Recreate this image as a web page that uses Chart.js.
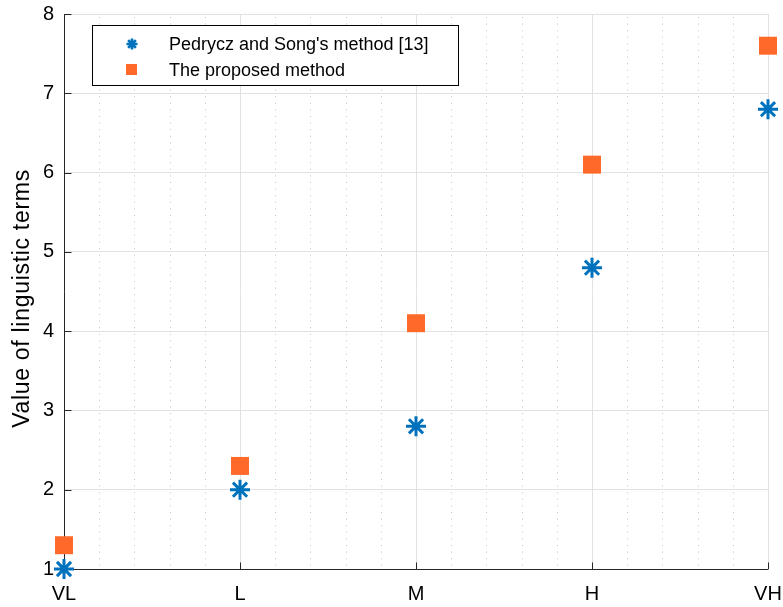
<!DOCTYPE html>
<html>
<head>
<meta charset="utf-8">
<script src="https://cdn.jsdelivr.net/npm/chart.js@4/dist/chart.umd.min.js"></script>
<style>
  html, body { margin: 0; padding: 0; background: #fff; }
  #wrap { width: 783px; height: 607px; position: relative; }
</style>
</head>
<body>
<div id="wrap"><canvas id="c" width="783" height="607"></canvas></div>
<script>
// ---- data ----
const categories = ['VL', 'L', 'M', 'H', 'VH'];
const pedryczSong = [1.0, 2.0, 2.8, 4.8, 6.8];
const proposed = [1.3, 2.3, 4.1, 6.1, 7.6];
const seriesNames = ["Pedrycz and Song's method [13]", 'The proposed method'];
const yTicks = [1, 2, 3, 4, 5, 6, 7, 8];
const yTitle = 'Value of linguistic terms';

const BLUE = '#0072BD';
const ORANGE = '#FF6929';
const AXIS = '#262626';
const FONT = '"Liberation Sans", Arial, Helvetica, sans-serif';

function toPoints(arr) { return arr.map((v, i) => ({ x: i, y: v })); }

const decorPlugin = {
  id: 'decor',
  beforeDatasetsDraw(chart) {
    const ctx = chart.ctx;
    const xs = chart.scales.x, ys = chart.scales.y;
    const a = chart.chartArea;
    ctx.save();
    // minor dotted vertical grid lines (every 0.2 category)
    ctx.strokeStyle = '#c4c4c4';
    ctx.lineWidth = 1;
    ctx.setLineDash([1, 5.6]);
    for (let i = 0; i < categories.length - 1; i++) {
      for (let k = 1; k < 5; k++) {
        const px = Math.round(xs.getPixelForValue(i + k / 5)) + 0.5;
        ctx.beginPath();
        ctx.moveTo(px, a.top + 3);
        ctx.lineTo(px, a.bottom);
        ctx.stroke();
      }
    }
    ctx.setLineDash([]);
    // axes lines
    ctx.strokeStyle = AXIS;
    ctx.lineWidth = 1;
    const left = Math.round(a.left) + 0.5;
    const bottom = Math.round(a.bottom) + 0.5;
    ctx.beginPath();
    ctx.moveTo(left, a.top);
    ctx.lineTo(left, bottom);
    ctx.lineTo(a.right, bottom);
    ctx.stroke();
    // inner ticks
    ctx.beginPath();
    yTicks.forEach(v => {
      const py = Math.round(ys.getPixelForValue(v)) + 0.5;
      ctx.moveTo(left, py);
      ctx.lineTo(left + 7, py);
    });
    categories.forEach((c, i) => {
      const px = Math.round(xs.getPixelForValue(i)) + 0.5;
      ctx.moveTo(px, bottom);
      ctx.lineTo(px, bottom - 7);
    });
    ctx.stroke();
    // y axis title
    ctx.fillStyle = '#000';
    ctx.font = '23px ' + FONT;
    try { ctx.letterSpacing = '0.7px'; } catch (e) {}
    ctx.textAlign = 'center';
    ctx.textBaseline = 'alphabetic';
    ctx.translate(29, (a.top + a.bottom) / 2 + 7);
    ctx.rotate(-Math.PI / 2);
    ctx.fillText(yTitle, 0, 0);
    ctx.restore();
  },
  afterDraw(chart) {
    const ctx = chart.ctx;
    const a = chart.chartArea;
    ctx.save();
    // legend box
    const bx = a.left + 28, by = a.top + 11, bw = 366, bh = 60;
    ctx.fillStyle = '#fff';
    ctx.fillRect(bx, by, bw, bh);
    ctx.strokeStyle = '#000';
    ctx.lineWidth = 1;
    ctx.strokeRect(bx + 0.5, by + 0.5, bw, bh);
    // star marker
    const sx = bx + 40, sy = by + 19;
    ctx.strokeStyle = BLUE;
    ctx.lineWidth = 2.6;
    const r = 5.5;
    ctx.beginPath();
    for (let k = 0; k < 4; k++) {
      const ang = k * Math.PI / 4;
      ctx.moveTo(sx - r * Math.cos(ang), sy - r * Math.sin(ang));
      ctx.lineTo(sx + r * Math.cos(ang), sy + r * Math.sin(ang));
    }
    ctx.stroke();
    // square marker
    ctx.fillStyle = ORANGE;
    ctx.fillRect(bx + 34, by + 39, 11, 11);
    // texts
    ctx.fillStyle = '#000';
    ctx.font = '18px ' + FONT;
    ctx.textBaseline = 'middle';
    ctx.textAlign = 'left';
    ctx.fillText(seriesNames[0], bx + 77, sy + 1);
    ctx.fillText(seriesNames[1], bx + 77, by + 46);
    ctx.restore();
  }
};

new Chart(document.getElementById('c'), {
  type: 'scatter',
  data: {
    datasets: [
      {
        label: seriesNames[0],
        data: toPoints(pedryczSong),
        pointStyle: 'star',
        pointRadius: 10,
        pointHoverRadius: 10,
        borderColor: BLUE,
        backgroundColor: BLUE,
        pointBorderWidth: 3,
        borderWidth: 3,
        clip: false
      },
      {
        label: seriesNames[1],
        data: toPoints(proposed),
        pointStyle: 'rect',
        pointRadius: 12.7,
        pointHoverRadius: 12.7,
        borderColor: ORANGE,
        backgroundColor: ORANGE,
        pointBorderWidth: 0,
        borderWidth: 0,
        clip: false
      }
    ]
  },
  options: {
    responsive: false,
    animation: false,
    events: [],
    layout: { padding: { top: 14, right: 15, left: 0, bottom: 0 } },
    plugins: { legend: { display: false }, tooltip: { enabled: false } },
    scales: {
      x: {
        type: 'linear',
        min: 0,
        max: categories.length - 1,
        afterFit(s) { s.height = 38; s.paddingLeft = 0; s.paddingRight = 0; },
        afterBuildTicks(s) { s.ticks = categories.map((c, i) => ({ value: i })); },
        ticks: {
          autoSkip: false,
          maxRotation: 0,
          padding: 13,
          color: '#000',
          font: { family: FONT, size: 20 },
          callback: (v) => categories[v] !== undefined ? categories[v] : ''
        },
        grid: { color: '#e2e2e2', lineWidth: 1, drawTicks: false },
        border: { display: false }
      },
      y: {
        type: 'linear',
        min: 1,
        max: 8,
        afterFit(s) { s.width = 64; s.paddingTop = 0; s.paddingBottom = 0; },
        afterBuildTicks(s) { s.ticks = yTicks.map(v => ({ value: v })); },
        ticks: {
          padding: 10,
          color: '#000',
          font: { family: FONT, size: 20 }
        },
        grid: { color: '#e2e2e2', lineWidth: 1, drawTicks: false },
        border: { display: false }
      }
    }
  },
  plugins: [decorPlugin]
});
</script>
</body>
</html>
